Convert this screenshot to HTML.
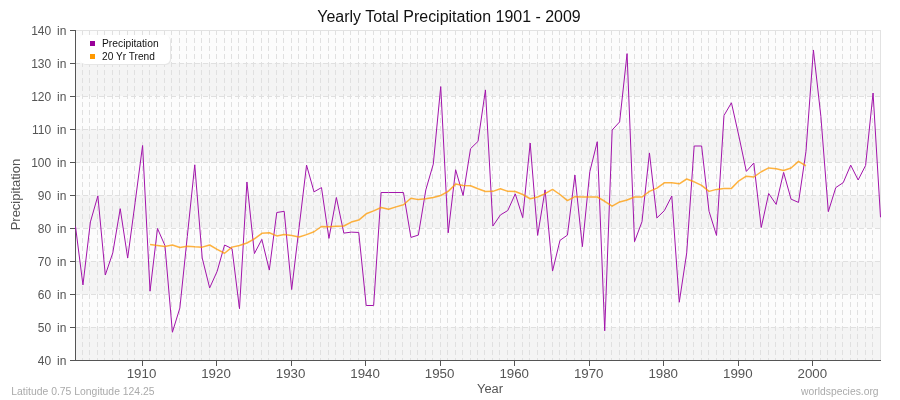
<!DOCTYPE html>
<html><head><meta charset="utf-8"><style>html,body{margin:0;padding:0;background:#fff;width:900px;height:400px;overflow:hidden}svg{display:block;will-change:transform}</style></head><body>
<svg width="900" height="400" viewBox="0 0 900 400">
<rect width="900" height="400" fill="#fff"/>
<rect x="76" y="30" width="805" height="33" fill="#fcfcfc"/><rect x="76" y="63" width="805" height="33" fill="#f4f4f4"/><rect x="76" y="96" width="805" height="33" fill="#fcfcfc"/><rect x="76" y="129" width="805" height="33" fill="#f4f4f4"/><rect x="76" y="162" width="805" height="33" fill="#fcfcfc"/><rect x="76" y="195" width="805" height="33" fill="#f4f4f4"/><rect x="76" y="228" width="805" height="33" fill="#fcfcfc"/><rect x="76" y="261" width="805" height="33" fill="#f4f4f4"/><rect x="76" y="294" width="805" height="33" fill="#fcfcfc"/><rect x="76" y="327" width="805" height="33" fill="#f4f4f4"/>
<path d="M82.5 30V360M89.5 30V360M97.5 30V360M104.5 30V360M112.5 30V360M119.5 30V360M127.5 30V360M134.5 30V360M142.5 30V360M149.5 30V360M156.5 30V360M164.5 30V360M171.5 30V360M179.5 30V360M186.5 30V360M194.5 30V360M201.5 30V360M209.5 30V360M216.5 30V360M224.5 30V360M231.5 30V360M238.5 30V360M246.5 30V360M253.5 30V360M261.5 30V360M268.5 30V360M276.5 30V360M283.5 30V360M291.5 30V360M298.5 30V360M306.5 30V360M313.5 30V360M320.5 30V360M328.5 30V360M335.5 30V360M343.5 30V360M350.5 30V360M358.5 30V360M365.5 30V360M373.5 30V360M380.5 30V360M388.5 30V360M395.5 30V360M402.5 30V360M410.5 30V360M417.5 30V360M425.5 30V360M432.5 30V360M440.5 30V360M447.5 30V360M455.5 30V360M462.5 30V360M470.5 30V360M477.5 30V360M484.5 30V360M492.5 30V360M499.5 30V360M507.5 30V360M514.5 30V360M522.5 30V360M529.5 30V360M537.5 30V360M544.5 30V360M552.5 30V360M559.5 30V360M566.5 30V360M574.5 30V360M581.5 30V360M589.5 30V360M596.5 30V360M604.5 30V360M611.5 30V360M619.5 30V360M626.5 30V360M634.5 30V360M641.5 30V360M648.5 30V360M656.5 30V360M663.5 30V360M671.5 30V360M678.5 30V360M686.5 30V360M693.5 30V360M701.5 30V360M708.5 30V360M716.5 30V360M723.5 30V360M730.5 30V360M738.5 30V360M745.5 30V360M753.5 30V360M760.5 30V360M768.5 30V360M775.5 30V360M783.5 30V360M790.5 30V360M798.5 30V360M805.5 30V360M812.5 30V360M820.5 30V360M827.5 30V360M835.5 30V360M842.5 30V360M850.5 30V360M857.5 30V360M865.5 30V360M872.5 30V360M880.5 30V360" stroke="#e0e0e0" stroke-width="1" stroke-dasharray="5,3" fill="none"/>
<path d="M75 327.5H881M75 294.5H881M75 261.5H881M75 228.5H881M75 195.5H881M75 162.5H881M75 129.5H881M75 96.5H881M75 63.5H881" stroke="#e0e0e0" stroke-width="1" stroke-dasharray="5,3" fill="none"/>
<path d="M75 30.5H880.5V360" stroke="#e2e2e2" stroke-width="1" fill="none"/>
<path d="M75.5 30V360.5M75 360.5H881M70 360.5H75M70 327.5H75M70 294.5H75M70 261.5H75M70 228.5H75M70 195.5H75M70 162.5H75M70 129.5H75M70 96.5H75M70 63.5H75M70 30.5H75M142.5 360V366M216.5 360V366M291.5 360V366M365.5 360V366M440.5 360V366M514.5 360V366M589.5 360V366M663.5 360V366M738.5 360V366M812.5 360V366" stroke="#555" stroke-width="1" fill="none"/>
<polyline points="75.50,226.52 82.95,284.93 90.41,221.90 97.86,195.83 105.31,275.03 112.77,252.92 120.22,208.70 127.68,258.00 135.13,202.43 142.58,145.50 150.04,291.20 157.49,228.50 164.94,245.50 172.40,332.25 179.85,308.03 187.31,236.42 194.76,164.81 202.21,258.00 209.67,287.90 217.12,271.40 224.57,245.00 232.03,248.63 239.48,308.69 246.94,181.97 254.39,253.58 261.84,239.39 269.30,270.08 276.75,212.50 284.20,211.34 291.66,289.55 299.11,227.34 306.56,165.14 314.02,191.87 321.47,187.58 328.93,238.40 336.38,197.48 343.83,233.12 351.29,232.13 358.74,232.46 366.19,305.49 373.65,305.49 381.10,192.53 388.56,192.53 396.01,192.53 403.46,192.53 410.92,237.41 418.37,235.10 425.82,189.89 433.28,164.15 440.73,86.60 448.19,232.79 455.64,169.76 463.09,195.50 470.55,148.64 478.00,141.38 485.45,89.90 492.91,225.99 500.36,214.97 507.81,210.51 515.27,193.85 522.72,217.61 530.18,143.03 537.63,235.43 545.08,189.89 552.54,271.07 559.99,240.38 567.44,235.10 574.90,175.04 582.35,246.65 589.81,171.74 597.26,141.71 604.71,330.80 612.17,130.00 619.62,121.91 627.07,53.60 634.53,241.70 641.98,221.73 649.44,152.93 656.89,217.94 664.34,210.68 671.80,196.00 679.25,302.25 686.70,252.92 694.16,146.00 701.61,146.00 709.06,211.34 716.52,235.43 723.97,115.51 731.43,102.77 738.88,136.10 746.33,171.41 753.79,163.00 761.24,227.51 768.69,193.52 776.15,204.41 783.60,172.40 791.06,199.13 798.51,202.43 805.96,151.61 813.42,49.97 820.87,116.30 828.32,211.67 835.78,187.58 843.23,182.63 850.69,165.14 858.14,179.99 865.59,165.47 873.05,93.00 880.50,217.28" fill="none" stroke="#a214ab" stroke-width="1.0" stroke-linejoin="round"/>
<polyline points="150.04,244.50 157.49,245.49 164.94,246.48 172.40,245.00 179.85,247.47 187.31,246.15 194.76,246.81 202.21,247.14 209.67,245.00 217.12,249.45 224.57,253.25 232.03,247.14 239.48,245.49 246.94,243.01 254.39,238.89 261.84,233.28 269.30,232.75 276.75,235.92 284.20,234.60 291.66,235.59 299.11,236.91 306.56,234.60 314.02,231.76 321.47,226.51 328.93,226.68 336.38,226.35 343.83,226.02 351.29,222.06 358.74,220.08 366.19,213.81 373.65,210.84 381.10,207.54 388.56,209.19 396.01,206.88 403.46,204.74 410.92,198.30 418.37,199.62 425.82,198.76 433.28,197.51 440.73,195.50 448.19,191.37 455.64,184.11 463.09,185.43 470.55,185.76 478.00,188.73 485.45,191.50 492.91,191.37 500.36,188.73 507.81,191.37 515.27,191.50 522.72,194.50 530.18,198.76 537.63,196.98 545.08,193.68 552.54,189.39 559.99,194.50 567.44,200.61 574.90,196.65 582.35,196.98 589.81,196.98 597.26,196.98 604.71,201.27 612.17,206.22 619.62,201.93 627.07,199.95 634.53,196.98 641.98,196.98 649.44,191.37 656.89,188.07 664.34,182.79 671.80,182.79 679.25,183.78 686.70,179.00 694.16,181.80 701.61,185.43 709.06,191.37 716.52,189.39 723.97,188.40 731.43,188.40 738.88,180.81 746.33,176.19 753.79,177.01 761.24,171.74 768.69,167.94 776.15,168.76 783.60,170.58 791.06,167.94 798.51,161.34 805.96,165.76" fill="none" stroke="#ff9900" stroke-opacity="0.75" stroke-width="1.5" stroke-linejoin="round"/>
<g font-family="&quot;Liberation Sans&quot;, sans-serif" font-size="12" fill="#555">
<text word-spacing="2.5" x="66.4" y="364.5" text-anchor="end">40 in</text><text word-spacing="2.5" x="66.4" y="331.5" text-anchor="end">50 in</text><text word-spacing="2.5" x="66.4" y="298.5" text-anchor="end">60 in</text><text word-spacing="2.5" x="66.4" y="265.5" text-anchor="end">70 in</text><text word-spacing="2.5" x="66.4" y="232.5" text-anchor="end">80 in</text><text word-spacing="2.5" x="66.4" y="199.5" text-anchor="end">90 in</text><text word-spacing="2.5" x="66.4" y="166.5" text-anchor="end">100 in</text><text word-spacing="2.5" x="66.4" y="133.5" text-anchor="end">110 in</text><text word-spacing="2.5" x="66.4" y="100.5" text-anchor="end">120 in</text><text word-spacing="2.5" x="66.4" y="67.5" text-anchor="end">130 in</text><text word-spacing="2.5" x="66.4" y="34.5" text-anchor="end">140 in</text>
<text x="141.5" y="378" text-anchor="middle" textLength="29.6" lengthAdjust="spacingAndGlyphs">1910</text><text x="216.0" y="378" text-anchor="middle" textLength="29.6" lengthAdjust="spacingAndGlyphs">1920</text><text x="290.6" y="378" text-anchor="middle" textLength="29.6" lengthAdjust="spacingAndGlyphs">1930</text><text x="365.1" y="378" text-anchor="middle" textLength="29.6" lengthAdjust="spacingAndGlyphs">1940</text><text x="439.6" y="378" text-anchor="middle" textLength="29.6" lengthAdjust="spacingAndGlyphs">1950</text><text x="514.2" y="378" text-anchor="middle" textLength="29.6" lengthAdjust="spacingAndGlyphs">1960</text><text x="588.7" y="378" text-anchor="middle" textLength="29.6" lengthAdjust="spacingAndGlyphs">1970</text><text x="663.2" y="378" text-anchor="middle" textLength="29.6" lengthAdjust="spacingAndGlyphs">1980</text><text x="737.8" y="378" text-anchor="middle" textLength="29.6" lengthAdjust="spacingAndGlyphs">1990</text><text x="812.3" y="378" text-anchor="middle" textLength="29.6" lengthAdjust="spacingAndGlyphs">2000</text>
<text x="490" y="392.5" text-anchor="middle" textLength="26" lengthAdjust="spacingAndGlyphs">Year</text>
<text transform="translate(20.1,194.6) rotate(-90)" text-anchor="middle" textLength="71.5" lengthAdjust="spacingAndGlyphs">Precipitation</text>
</g>
<text x="449" y="22" text-anchor="middle" textLength="263.5" lengthAdjust="spacingAndGlyphs" font-family="&quot;Liberation Sans&quot;, sans-serif" font-size="16" fill="#111">Yearly Total Precipitation 1901 - 2009</text>
<rect x="81" y="36" width="90" height="29" rx="5" fill="#e6e6e6"/><rect x="80" y="35" width="90" height="29" rx="5" fill="#fff"/>
<rect x="90" y="41" width="5" height="5" fill="#990099"/>
<rect x="90" y="54" width="5" height="5" fill="#ff9900"/>
<g font-family="&quot;Liberation Sans&quot;, sans-serif" font-size="10" fill="#111">
<text x="102" y="46.7" textLength="56.6" lengthAdjust="spacingAndGlyphs">Precipitation</text>
<text x="102" y="59.6" textLength="52.8" lengthAdjust="spacingAndGlyphs">20 Yr Trend</text>
</g>
<g font-family="&quot;Liberation Sans&quot;, sans-serif" font-size="11" fill="#aaa">
<text x="11.3" y="394.7" textLength="143.3" lengthAdjust="spacingAndGlyphs">Latitude 0.75 Longitude 124.25</text>
<text x="878.6" y="394.7" text-anchor="end" textLength="77.5" lengthAdjust="spacingAndGlyphs">worldspecies.org</text>
</g>
</svg>
</body></html>
